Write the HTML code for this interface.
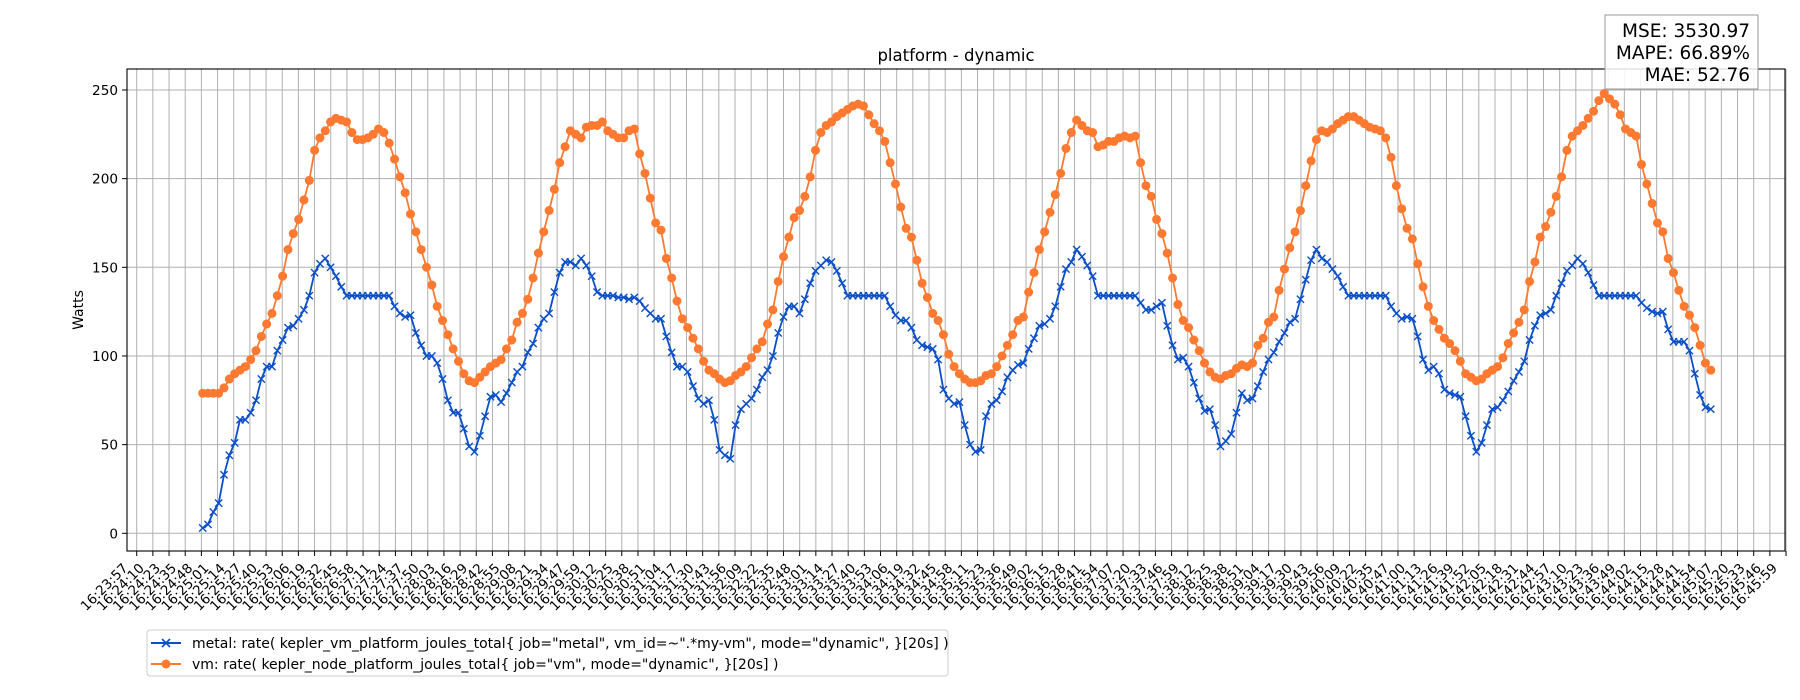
<!DOCTYPE html>
<html><head><meta charset="utf-8"><style>
html,body{margin:0;padding:0;background:#fff;width:1800px;height:700px;overflow:hidden}
svg{display:block;font-family:"DejaVu Sans","Liberation Sans",sans-serif}
</style></head><body>
<svg id="chart" width="1800" height="700" viewBox="0 0 1800 700" xmlns="http://www.w3.org/2000/svg">
<rect x="0" y="0" width="1800" height="700" fill="#fff"/>
<g id="grid"></g>
<g id="series"></g>
<rect x="127" y="69" width="1658" height="482" fill="none" stroke="#000" stroke-width="1.1"/>
<g id="axes"></g>
<text x="956" y="61" font-size="16.5" text-anchor="middle">platform - dynamic</text>
<text x="0" y="0" font-size="14" text-anchor="middle" transform="translate(83,310) rotate(-90)">Watts</text>
<g>
<rect x="1605" y="15" width="153" height="74" fill="#fff" fill-opacity="0.85" stroke="#999" stroke-width="1"/>
<text x="1750" y="37" font-size="18.5" text-anchor="end">MSE: 3530.97</text>
<text x="1750" y="59" font-size="18.5" text-anchor="end">MAPE: 66.89%</text>
<text x="1750" y="81" font-size="18.5" text-anchor="end">MAE: 52.76</text>
</g>
<g>
<rect x="147" y="630" width="801" height="46" rx="3" fill="#fff" stroke="#ccc" stroke-width="1"/>
<g>
<line x1="151" y1="643" x2="181" y2="643" stroke="#0b4fc8" stroke-width="2"/>
<path d="M162,639 l8,8 M170,639 l-8,8" stroke="#0b4fc8" stroke-width="1.6"/>
<text x="192" y="648" font-size="14">metal: rate( kepler_vm_platform_joules_total{ job="metal", vm_id=~".*my-vm", mode="dynamic", }[20s] )</text>
</g>
<g>
<line x1="151" y1="664" x2="181" y2="664" stroke="#ff7a30" stroke-width="2"/>
<circle cx="166" cy="664" r="4.5" fill="#ff7a30"/>
<text x="192" y="669" font-size="14">vm: rate( kepler_node_platform_joules_total{ job="vm", mode="dynamic", }[20s] )</text>
</g>
</g>
</svg>
<script>
const yTicks = [0, 50, 100, 150, 200, 250];
const tickCount = 103;
const tickStartSec = 57.1; // 16:23:57 in seconds after 16:23:00
const tickStepSec = 12.96;
const sampleStartSec = 52.9; // seconds after first tick
const sampleStepSec = 4.271;
const metal = [3,5,12,17,33,44,51,64,64,68,75,87,94,94,103,109,116,117,121,126,134,147,152,155,150,145,139,134,134,134,134,134,134,134,134,134,128,124,122,123,113,106,100,100,96,87,75,68,68,59,49,46,55,66,77,78,74,79,85,
91,94,102,107,116,121,124,136,147,153,153,151,155,151,145,136,134,134,134,133,133,132,133,131,127,124,121,121,111,102,94,94,91,83,76,73,75,64,47,44,42,61,70,73,76,81,88,92,100,113,122,128,128,124,132,141,148,151,154,
153,148,141,134,134,134,134,134,134,134,134,128,123,120,120,116,109,106,105,104,98,81,76,73,74,61,50,46,47,66,73,75,80,88,92,95,96,104,110,117,118,121,128,139,149,153,160,156,151,145,134,134,134,134,134,134,134,134,130,126,
126,128,130,117,106,98,99,94,85,76,69,70,61,49,52,56,68,79,75,76,83,91,98,102,108,113,119,121,132,143,154,160,155,153,149,145,139,134,134,134,134,134,134,134,134,128,124,121,122,121,111,98,92,94,90,81,79,78,77,66,
55,46,51,61,70,71,75,80,86,91,97,109,117,123,124,126,134,141,148,151,155,152,147,140,134,134,134,134,134,134,134,134,130,127,125,124,125,115,108,108,108,103,90,78,71,70];
const vm = [79,79,79,79,82,87,90,92,94,98,103,111,118,124,134,145,160,169,177,188,199,216,223,227,232,234,233,232,226,222,222,223,225,228,226,220,211,201,192,180,170,160,150,140,128,120,112,104,97,90,86,85,88,91,94,96,98,104,109,
119,124,132,144,158,170,182,194,209,218,227,225,223,229,230,230,232,227,225,223,223,227,228,214,203,189,175,171,155,144,131,121,116,110,104,97,92,90,87,85,86,89,91,94,99,104,108,118,126,142,156,167,178,182,190,201,216,226,230,
232,235,237,239,241,242,241,236,231,227,221,209,197,184,172,167,154,141,133,124,120,112,101,94,90,87,85,85,86,89,90,94,100,106,112,120,122,136,147,160,170,181,191,203,217,226,233,230,227,226,218,219,221,221,223,224,223,224,209,196,
190,177,169,158,144,129,120,116,109,103,96,91,88,87,89,90,93,95,94,96,106,110,119,122,137,149,161,170,182,196,210,222,227,226,228,231,233,235,235,233,231,229,228,227,223,212,196,183,172,166,152,139,128,120,115,110,107,103,97,90,
88,86,87,90,92,94,99,107,113,119,126,142,153,167,173,181,190,201,216,224,227,230,234,238,244,248,245,242,236,228,226,224,208,197,186,175,170,155,147,137,128,123,116,106,96,92];

const NS = "http://www.w3.org/2000/svg";
const X0 = 136.7, PX_PER_TICK = 16.17;
function xScale(sec){ return X0 + sec * PX_PER_TICK / tickStepSec; }
function yScale(v){ return 533.3 - v * 1.7733; }
function mk(tag, attrs, parent){ const e = document.createElementNS(NS, tag); for (const k in attrs) e.setAttribute(k, attrs[k]); parent.appendChild(e); return e; }
function fmt(s){ s = Math.floor(s); const h = 16, m = 23 + Math.floor(s/60), ss = s % 60; return h + ":" + String(m).padStart(2,"0") + ":" + String(ss).padStart(2,"0"); }

const grid = document.getElementById("grid");
const axes = document.getElementById("axes");
for (let j = 0; j < tickCount; j++) {
  const x = xScale(j * tickStepSec);
  const g = mk("line", {x1:x, y1:69, x2:x, y2:551, stroke:"#b0b0b0", "stroke-width":1}, grid);
  
  
  const t = mk("line", {x1:x, y1:551, x2:x, y2:556, stroke:"#000", "stroke-width":1}, axes);
  
  
  const lb = mk("text", {x:0, y:0, "font-size":13.4, "text-anchor":"end", transform:"translate(" + (x - 8) + ",569) rotate(-45)"}, axes);
  lb.textContent = fmt(tickStartSec + j * tickStepSec);
  
  
}
yTicks.forEach(v => {
  const y = yScale(v);
  const g = mk("line", {x1:127, y1:y, x2:1785, y2:y, stroke:"#b0b0b0", "stroke-width":1}, grid);
  
  
  const t = mk("line", {x1:122, y1:y, x2:127, y2:y, stroke:"#000", "stroke-width":1}, axes);
  
  
  const lb = mk("text", {x:118, y:y + 5, "font-size":13.6, "text-anchor":"end"}, axes);
  lb.textContent = String(v);
  
  
});

const series = document.getElementById("series");
function sx(i){ return xScale(sampleStartSec + i * sampleStepSec); }
const gm = mk("g", {}, series);


const pm = mk("polyline", {points: metal.map((v,i) => sx(i).toFixed(1) + "," + yScale(v).toFixed(1)).join(" "), fill:"none", stroke:"#0b4fc8", "stroke-width":1.8}, gm);


metal.forEach((v,i) => {
  const x = sx(i), y = yScale(v), r = 3.6;
  const m = mk("path", {d:`M${x-r},${y-r}L${x+r},${y+r}M${x+r},${y-r}L${x-r},${y+r}`, stroke:"#0b4fc8", "stroke-width":1.4}, gm);
  
  
});
const gv = mk("g", {}, series);


const pv = mk("polyline", {points: vm.map((v,i) => sx(i).toFixed(1) + "," + yScale(v).toFixed(1)).join(" "), fill:"none", stroke:"#ff7a30", "stroke-width":1.8}, gv);


vm.forEach((v,i) => {
  const c = mk("circle", {cx:sx(i), cy:yScale(v), r:4.5, fill:"#ff7a30"}, gv);
  
  
});
</script>
</body></html>
